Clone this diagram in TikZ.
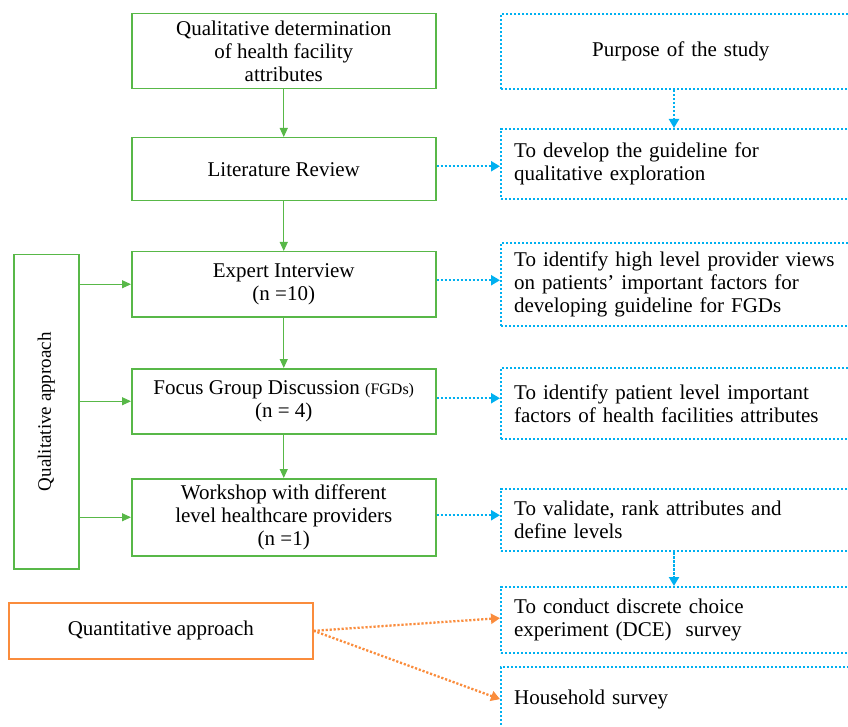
\documentclass[tikz,border=0pt]{standalone}
\usepackage{fontspec}
\setmainfont{Liberation Serif}
\usetikzlibrary{arrows.meta}
\definecolor{gline}{RGB}{88,184,72}
\definecolor{bline}{RGB}{0,176,240}
\definecolor{oline}{RGB}{250,140,60}
\tikzset{
  basebox/.style={anchor=north west, inner sep=0pt, font=\fontsize{21pt}{23pt}\selectfont},
  gbox/.style={basebox, draw=gline, line width=1.5pt, align=center},
  bbox/.style={basebox, draw=bline, line width=2.3pt, dash pattern=on 2.2pt off 1.8pt, align=left, text width=344pt},
  obox/.style={basebox, draw=oline, line width=1.6pt, align=center},
  garrow/.style={draw=gline, line width=1pt, -{Triangle[length=9pt,width=8pt]}},
  barrow/.style={draw=bline, line width=2.3pt, dash pattern=on 2.2pt off 1.8pt, -{Triangle[length=9pt,width=10pt]}},
  oarrow/.style={draw=oline, line width=2.3pt, dash pattern=on 2.2pt off 1.8pt, -{Triangle[length=9pt,width=10pt]}}
}
\begin{document}
\begin{tikzpicture}[x=1pt,y=-1pt]
\clip (0,0) rectangle (848,727);
\useasboundingbox (0,0) rectangle (848,727);
% green column
\node[gbox, minimum width=304pt, minimum height=75pt] (top) at (131,13) {Qualitative determination\\of health facility\\attributes};
\node[gbox, minimum width=304pt, minimum height=63pt] (lit) at (131,137) {Literature Review};
\node[gbox, minimum width=304pt, minimum height=65pt] (exp) at (131,251) {Expert Interview\\(n =10)};
\node[gbox, minimum width=304pt, minimum height=65pt] (fgd) at (131,368) {Focus Group Discussion {\fontsize{16pt}{17pt}\selectfont(FGDs)}\\(n = 4)};
\node[gbox, minimum width=304pt, minimum height=77pt] (work) at (131,478) {Workshop with different\\level healthcare providers\\(n =1)};
% qualitative approach
\node[gbox, minimum width=65pt, minimum height=314pt] (qual) at (13,254) {};
\node[rotate=90, font=\fontsize{19pt}{21pt}\selectfont] (qualtext) at (qual.center) {Qualitative approach};
% quantitative approach
\node[obox, minimum width=304pt, minimum height=56pt] (quant) at (8,602) {Quantitative approach};
% right boxes
\node[bbox, minimum width=370pt, minimum height=75pt] (purp) at (500,13) {\hspace*{78pt}Purpose of the study};
\node[bbox, minimum width=370pt, minimum height=70pt] (dev) at (500,128) {To develop the guideline for\\qualitative exploration};
\node[bbox, minimum width=370pt, minimum height=83pt] (ide) at (500,242) {To identify high level provider views\\on patients’ important factors for\\developing guideline for FGDs};
\node[bbox, minimum width=370pt, minimum height=71pt] (pat) at (500,367) {To identify patient level important\\factors of health facilities attributes};
\node[bbox, minimum width=370pt, minimum height=62pt] (val) at (500,488) {To validate, rank attributes and\\define levels};
\node[bbox, minimum width=370pt, minimum height=66pt] (dce) at (500,586) {To conduct discrete choice\\experiment (DCE)\ \ survey};
\node[bbox, minimum width=370pt, minimum height=64pt] (house) at (500,666) {Household survey};
% green arrows
\draw[garrow] (top) -- (lit);
\draw[garrow] (lit) -- (exp);
\draw[garrow] (exp) -- (fgd);
\draw[garrow] (fgd) -- (work);
\draw[garrow] (qual.east |- exp.west) -- (exp.west);
\draw[garrow] (qual.east |- fgd.west) -- (fgd.west);
\draw[garrow] (qual.east |- work.west) -- (work.west);
% blue arrows
\draw[barrow] ([xshift=174pt]purp.south west) -- ([xshift=174pt]dev.north west);
\draw[barrow] ([yshift=3pt]lit.east) -- ([yshift=3pt]lit.east -| dev.west);
\draw[barrow] ([yshift=4pt]exp.east) -- ([yshift=4pt]exp.east -| ide.west);
\draw[barrow] ([yshift=3pt]fgd.east) -- ([yshift=3pt]fgd.east -| pat.west);
\draw[barrow] ([yshift=2pt]work.east) -- ([yshift=2pt]work.east -| val.west);
\draw[barrow] ([xshift=174pt]val.south west) -- ([xshift=174pt]dce.north west);
% orange arrows
\draw[oarrow] (quant.east) -- ([yshift=2pt]dce.west);
\draw[oarrow] (quant.east) -- (house.west);
\end{tikzpicture}
\end{document}
